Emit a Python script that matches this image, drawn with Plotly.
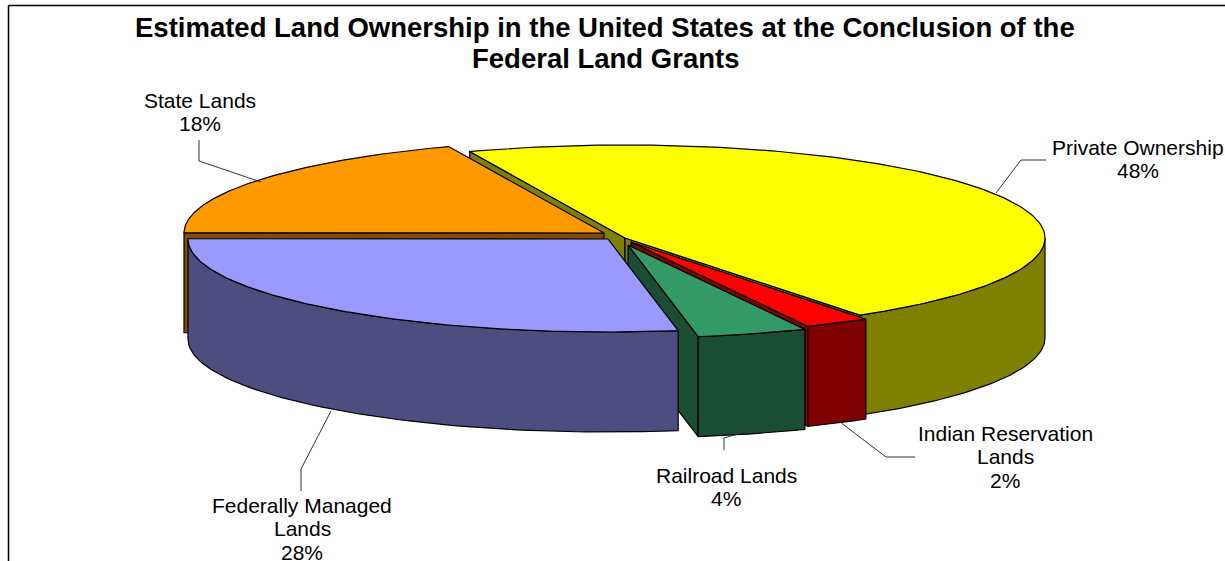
import numpy as np
import plotly.graph_objects as go

# Share of land by owner, in percent, clockwise from the back of the pie
owners = ["Private Ownership", "Indian Reservation<br>Lands", "Railroad Lands",
          "Federally Managed<br>Lands", "State Lands"]
shares = [48, 2, 4, 28, 18]
top_colors = ["#FFFF00", "#FF0000", "#339966", "#9999FF", "#FF9900"]
side_colors = ["#808000", "#7F0000", "#1A4D33", "#4D4D80", "#804D00"]

TITLE_LINES = ["Estimated Land Ownership in the United States at the Conclusion of the",
               "Federal Land Grants"]

# Pie projection on a pixel-sized plot area
RX, RY, DEPTH = 420, 93, 100
START_DEG = -114
# Where each exploded wedge's apex lands
apexes = [(625, 238), (631, 242), (628, 245), (608, 239), (604, 233)]
# First-line label anchors (centre x, centre y) in owner order
label_pos = [(1138, 147), (1005, 433), (726, 475), (302, 505), (200, 100)]
LABEL_STEP = 23.7
# Leader lines in owner order
leaders = [
    [(1046, 160), (1021, 160), (996, 193)],
    [(915, 457), (886, 457), (840, 422)],
    [(724, 450), (724, 438), (745, 432)],
    [(301, 491), (301, 469), (331, 411)],
    [(199, 140), (199, 161), (261, 182)],
]
# Back-to-front painting order, as indexes into the owner lists
paint_order = [0, 1, 2, 4, 3]


def warp(t):
    # Perspective shifts the apparent wedge angles a few degrees around the disc
    far = min(abs(t - START_DEG), abs(t - START_DEG - 360))
    return (t + 2.3 * np.exp(-(far / 40) ** 2)
            - 5.7 * np.exp(-((t - 47) / 14) ** 2)
            - 1.2 * np.exp(-((t - 181) / 30) ** 2))


def rim(c, t, drop=0):
    a = np.radians(t)
    return c[0] + RX * np.cos(a), c[1] + RY * np.sin(a) + drop


def polygon(name, xs, ys, color):
    return go.Scatter(
        x=np.asarray(xs), y=np.asarray(ys), mode="lines", name=name,
        fill="toself", fillcolor=color, line=dict(color="#000000", width=1.2),
        hoverinfo="skip", showlegend=False,
    )


edges = START_DEG + np.r_[0, np.cumsum(shares)] * 3.6
spans = list(zip(edges[:-1], edges[1:]))

fig = go.Figure()
for i in paint_order:
    owner, top, side, c = owners[i], top_colors[i], side_colors[i], apexes[i]
    raw0, raw1 = spans[i]
    t0, t1 = warp(raw0), warp(raw1)

    # Cut faces, only those turned toward the viewer
    for edge, normal in ((t0, t0 - 90), (t1, t1 + 90)):
        if np.sin(np.radians(normal)) > 0:
            ex, ey = rim(c, edge)
            fig.add_trace(polygon(owner, [c[0], ex, ex, c[0], c[0]],
                                  [c[1], ey, ey + DEPTH, c[1] + DEPTH, c[1]], side))

    # Outer rim wall on the front half of the disc
    lo, hi = max(t0, 0), min(t1, 180)
    if hi > lo:
        ts = np.linspace(lo, hi, 80)
        ux, uy = rim(c, ts)
        lx, ly = rim(c, ts[::-1], DEPTH)
        fig.add_trace(polygon(owner, np.r_[ux, lx, ux[0]], np.r_[uy, ly, uy[0]], side))

    # Top face
    ts = np.linspace(t0, t1, 160)
    ux, uy = rim(c, ts)
    fig.add_trace(polygon(owner, np.r_[c[0], ux, c[0]], np.r_[c[1], uy, c[1]], top))

shapes = [
    dict(type="line", x0=8.5, x1=8.5, y0=5.5, y1=561, line=dict(color="#000000", width=1.5)),
    dict(type="line", x0=8.5, x1=1225, y0=5.5, y1=5.5, line=dict(color="#000000", width=1.5)),
]
for pts in leaders:
    path = "M" + " L".join(f"{x},{y}" for x, y in pts)
    shapes.append(dict(type="path", path=path, line=dict(color="#333333", width=1)))

annotations = []
for line, y in zip(TITLE_LINES, (27, 58)):
    annotations.append(dict(
        x=605, y=y, text=f"<b>{line}</b>", showarrow=False,
        xanchor="center", yanchor="middle",
        font=dict(family="Liberation Sans", size=27.5, color="#000000"),
    ))
for owner, share, (x, y) in zip(owners, shares, label_pos):
    for k, line in enumerate(owner.split("<br>") + [f"{share}%"]):
        annotations.append(dict(
            x=x, y=y + k * LABEL_STEP, text=line, showarrow=False,
            xanchor="center", yanchor="middle",
            font=dict(family="Liberation Sans", size=21, color="#000000"),
        ))

fig.update_layout(
    width=1225, height=561, autosize=False,
    margin=dict(l=0, r=0, t=0, b=0),
    paper_bgcolor="#FFFFFF", plot_bgcolor="#FFFFFF",
    xaxis=dict(range=[0, 1225], visible=False, fixedrange=True),
    yaxis=dict(range=[561, 0], visible=False, fixedrange=True),
    shapes=shapes, annotations=annotations,
)
fig.write_html("out.html", config={"displayModeBar": False})
